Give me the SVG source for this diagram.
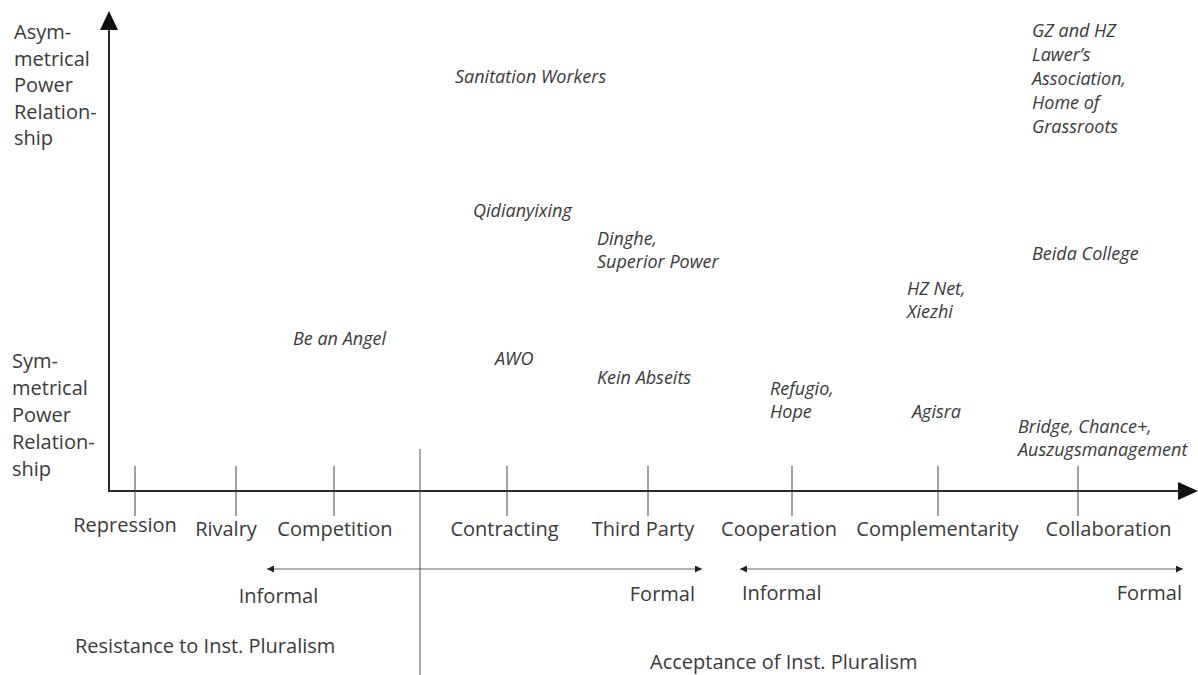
<svg xmlns="http://www.w3.org/2000/svg" width="1198" height="675" viewBox="0 0 1198 675">
<style>
text{font-family:"Open Sans","Liberation Sans",sans-serif;fill:#3a3a3a}
.ax{font-size:20px}
.it{font-size:18px;font-style:italic}
.axis{stroke:#2a2a2a;stroke-width:2;fill:none}
.tick{stroke:#444;stroke-width:1;fill:none}
.div{stroke:#555;stroke-width:1;fill:none}
.rng{stroke:#666;stroke-width:1.2;fill:none}
</style>
<defs>
<marker id="sm" viewBox="0 0 10 10" refX="10" refY="5" markerWidth="8" markerHeight="7" markerUnits="userSpaceOnUse" orient="auto-start-reverse">
<path d="M0,0 L10,5 L0,10 z" fill="#222"/>
</marker>
</defs>
<rect width="1198" height="675" fill="#fff"/>
<g id="connectors">
<line class="axis" x1="109" y1="491" x2="109" y2="28"/>
<polygon points="109,11 100,30 118,30" fill="#111"/>
<line class="axis" x1="108" y1="491" x2="1180" y2="491"/>
<polygon points="1198,491 1178,482 1178,500" fill="#111"/>
<g class="tick">
<line x1="135" y1="466" x2="135" y2="516"/>
<line x1="236" y1="466" x2="236" y2="516"/>
<line x1="334" y1="466" x2="334" y2="516"/>
<line x1="507" y1="466" x2="507" y2="516"/>
<line x1="648" y1="466" x2="648" y2="516"/>
<line x1="792" y1="466" x2="792" y2="516"/>
<line x1="938" y1="466" x2="938" y2="516"/>
<line x1="1078" y1="466" x2="1078" y2="516"/>
</g>
<line class="div" x1="420" y1="449" x2="420" y2="675"/>
<line class="rng" x1="267" y1="569" x2="702" y2="569" marker-start="url(#sm)" marker-end="url(#sm)"/>
<line class="rng" x1="740" y1="569" x2="1183" y2="569" marker-start="url(#sm)" marker-end="url(#sm)"/>
</g>
<g id="y-top">
<text class="ax" x="14" y="39">Asym-</text>
<text class="ax" x="14" y="65.5">metrical</text>
<text class="ax" x="14" y="92">Power</text>
<text class="ax" x="14" y="118.5">Relation-</text>
<text class="ax" x="14" y="145">ship</text>
</g>
<g id="y-bottom">
<text class="ax" x="12" y="368">Sym-</text>
<text class="ax" x="12" y="395">metrical</text>
<text class="ax" x="12" y="422">Power</text>
<text class="ax" x="12" y="449">Relation-</text>
<text class="ax" x="12" y="476">ship</text>
</g>
<g id="x-labels" text-anchor="middle">
<text class="ax" x="125" y="532">Repression</text>
<text class="ax" x="226" y="536">Rivalry</text>
<text class="ax" x="335" y="536">Competition</text>
<text class="ax" x="504.5" y="536">Contracting</text>
<text class="ax" x="643" y="536">Third Party</text>
<text class="ax" x="779" y="536">Cooperation</text>
<text class="ax" x="937.5" y="536">Complementarity</text>
<text class="ax" x="1108.5" y="536">Collaboration</text>
</g>
<g id="range-left">
<text class="ax" x="278.5" y="603" text-anchor="middle">Informal</text>
<text class="ax" x="695" y="601" text-anchor="end">Formal</text>
</g>
<g id="range-right">
<text class="ax" x="742" y="600">Informal</text>
<text class="ax" x="1182" y="600" text-anchor="end">Formal</text>
</g>
<g id="zone-resistance"><text class="ax" x="75" y="653">Resistance to Inst. Pluralism</text></g>
<g id="zone-acceptance"><text class="ax" x="650" y="669">Acceptance of Inst. Pluralism</text></g>
<g id="n-sanitation"><text class="it" x="455" y="83">Sanitation Workers</text></g>
<g id="n-qidianyixing"><text class="it" x="473" y="217">Qidianyixing</text></g>
<g id="n-dinghe"><text class="it" x="597" y="245">Dinghe,</text><text class="it" x="597" y="268">Superior Power</text></g>
<g id="n-angel"><text class="it" x="293" y="345">Be an Angel</text></g>
<g id="n-awo"><text class="it" x="495" y="365">AWO</text></g>
<g id="n-kein"><text class="it" x="597" y="384">Kein Abseits</text></g>
<g id="n-hznet"><text class="it" x="907" y="295">HZ Net,</text><text class="it" x="907" y="318">Xiezhi</text></g>
<g id="n-refugio"><text class="it" x="770" y="395">Refugio,</text><text class="it" x="770" y="418">Hope</text></g>
<g id="n-agisra"><text class="it" x="912" y="418">Agisra</text></g>
<g id="n-bridge"><text class="it" x="1018" y="433">Bridge, Chance+,</text><text class="it" x="1018" y="456">Auszugsmanagement</text></g>
<g id="n-gz"><text class="it" x="1032" y="37">GZ and HZ</text><text class="it" x="1032" y="61">Lawer’s</text><text class="it" x="1032" y="85">Association,</text><text class="it" x="1032" y="109">Home of</text><text class="it" x="1032" y="133">Grassroots</text></g>
<g id="n-beida"><text class="it" x="1032" y="260">Beida College</text></g>
</svg>
